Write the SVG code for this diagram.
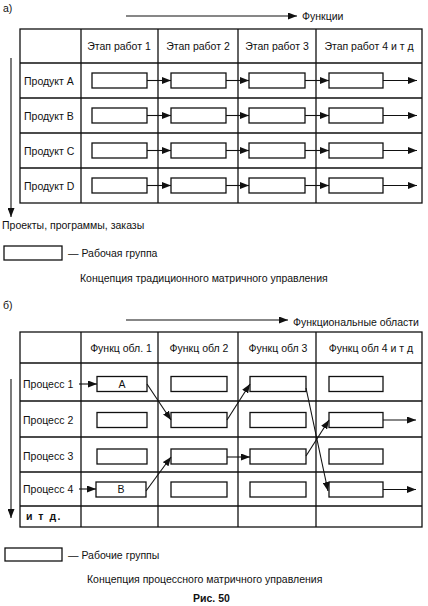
<svg xmlns="http://www.w3.org/2000/svg" width="428" height="606" viewBox="0 0 428 606">
<defs>
<marker id="ah" markerUnits="userSpaceOnUse" markerWidth="9" markerHeight="7" refX="9" refY="3.5" orient="auto">
<path d="M0,0 L9,3.5 L0,7 z" fill="#111"/>
</marker>
<style>
.t{font-family:"Liberation Sans",Arial,sans-serif;font-size:10.5px;fill:#111}
.m{text-anchor:middle}
.g{stroke:#111;stroke-width:1.3;fill:none}
.b{fill:#fff;stroke:#111;stroke-width:1.3}
.c{stroke:#111;stroke-width:1.1;fill:none;marker-end:url(#ah)}
</style>
</defs>
<rect width="428" height="606" fill="#fff"/>

<!-- Part a -->
<g id="part-a-labels">
<text class="t" x="3" y="12" font-size="11">а)</text>
<text class="t" x="302" y="20" font-size="11.5">Функции</text>
<text class="t" x="2" y="229" font-size="11.5">Проекты, программы, заказы</text>
<text class="t" x="80" y="282" font-size="10.9">Концепция традиционного матричного управления</text>
</g>
<g id="table-a">
<rect class="g" x="20" y="29" width="402" height="174"/>
<path class="g" d="M20,63H422M20,98H422M20,133H422M20,168H422M81,29V203M158,29V203M238,29V203M316,29V203"/>
<text class="t m" x="119" y="50">Этап работ 1</text>
<text class="t m" x="198" y="50">Этап работ 2</text>
<text class="t m" x="277" y="50">Этап работ 3</text>
<text class="t m" x="369" y="50">Этап работ 4 и т д</text>
<text class="t" x="24" y="84.5">Продукт А</text>
<text class="t" x="24" y="119.5">Продукт В</text>
<text class="t" x="24" y="154.5">Продукт С</text>
<text class="t" x="24" y="189.5">Продукт D</text>
</g>
<g id="nodes-a">
<g id="a-A1"><rect class="b" x="92" y="73" width="55" height="15"/></g>
<g id="a-A2"><rect class="b" x="171" y="73" width="55" height="15"/></g>
<g id="a-A3"><rect class="b" x="249" y="73" width="56" height="15"/></g>
<g id="a-A4"><rect class="b" x="329" y="73" width="54" height="15"/></g>
<g id="a-B1"><rect class="b" x="92" y="108" width="55" height="15"/></g>
<g id="a-B2"><rect class="b" x="171" y="108" width="55" height="15"/></g>
<g id="a-B3"><rect class="b" x="249" y="108" width="56" height="15"/></g>
<g id="a-B4"><rect class="b" x="329" y="108" width="54" height="15"/></g>
<g id="a-C1"><rect class="b" x="92" y="143" width="55" height="15"/></g>
<g id="a-C2"><rect class="b" x="171" y="143" width="55" height="15"/></g>
<g id="a-C3"><rect class="b" x="249" y="143" width="56" height="15"/></g>
<g id="a-C4"><rect class="b" x="329" y="143" width="54" height="15"/></g>
<g id="a-D1"><rect class="b" x="92" y="178" width="55" height="15"/></g>
<g id="a-D2"><rect class="b" x="171" y="178" width="55" height="15"/></g>
<g id="a-D3"><rect class="b" x="249" y="178" width="56" height="15"/></g>
<g id="a-D4"><rect class="b" x="329" y="178" width="54" height="15"/></g>
<g id="a-legend"><rect class="b" x="4" y="246" width="58" height="14"/><text class="t" x="68" y="257">— Рабочая группа</text></g>
</g>
<g id="connectors-a">
<path class="c" d="M126,16H297"/>
<path class="c" d="M11,58V217"/>
<path class="c" d="M147,80.5H171"/><path class="c" d="M226,80.5H249"/><path class="c" d="M305,80.5H329"/><path class="c" d="M383,80.5H417"/>
<path class="c" d="M147,115.5H171"/><path class="c" d="M226,115.5H249"/><path class="c" d="M305,115.5H329"/><path class="c" d="M383,115.5H417"/>
<path class="c" d="M147,150.5H171"/><path class="c" d="M226,150.5H249"/><path class="c" d="M305,150.5H329"/><path class="c" d="M383,150.5H417"/>
<path class="c" d="M147,185.5H171"/><path class="c" d="M226,185.5H249"/><path class="c" d="M305,185.5H329"/><path class="c" d="M383,185.5H417"/>
</g>

<!-- Part b -->
<g id="part-b-labels">
<text class="t" x="3" y="309" font-size="11">б)</text>
<text class="t" x="293" y="326" font-size="11.5">Функциональные области</text>
<text class="t" x="87" y="583" font-size="11.3">Концепция процессного матричного управления</text>
<text class="t" x="193" y="602" font-size="12.5" font-weight="bold">Рис. 50</text>
</g>
<g id="table-b">
<rect class="g" x="20" y="332" width="402" height="195"/>
<path class="g" d="M20,363H422M20,401H422M20,437H422M20,472H422M20,506H422M81,332V527M158,332V527M238,332V527M316,332V527"/>
<text class="t m" x="121" y="352">Функц обл. 1</text>
<text class="t m" x="199" y="352">Функц обл 2</text>
<text class="t m" x="278" y="352">Функц обл 3</text>
<text class="t m" x="371" y="352">Функц обл 4 и т д</text>
<text class="t" x="23" y="388">Процесс 1</text>
<text class="t" x="23" y="423.5">Процесс 2</text>
<text class="t" x="23" y="460">Процесс 3</text>
<text class="t" x="23" y="493">Процесс 4</text>
<text class="t" x="26" y="520" font-size="9" font-weight="bold" letter-spacing="1.5">и т д.</text>
</g>
<g id="nodes-b">
<g id="b-1-1"><rect class="b" x="97" y="376.5" width="50" height="15"/><text class="t m" x="122" y="388" font-size="9.5">А</text></g>
<g id="b-1-2"><rect class="b" x="171" y="376.5" width="56" height="15"/></g>
<g id="b-1-3"><rect class="b" x="250" y="376.5" width="56" height="15"/></g>
<g id="b-1-4"><rect class="b" x="329" y="376.5" width="54" height="15"/></g>
<g id="b-2-1"><rect class="b" x="97" y="412.5" width="50" height="15"/></g>
<g id="b-2-2"><rect class="b" x="171" y="412.5" width="56" height="15"/></g>
<g id="b-2-3"><rect class="b" x="250" y="412.5" width="56" height="15"/></g>
<g id="b-2-4"><rect class="b" x="329" y="412.5" width="54" height="15"/></g>
<g id="b-3-1"><rect class="b" x="97" y="449" width="50" height="15"/></g>
<g id="b-3-2"><rect class="b" x="171" y="449" width="56" height="15"/></g>
<g id="b-3-3"><rect class="b" x="250" y="449" width="56" height="15"/></g>
<g id="b-3-4"><rect class="b" x="329" y="449" width="54" height="15"/></g>
<g id="b-4-1"><rect class="b" x="96" y="482" width="50" height="15"/><text class="t m" x="121" y="493" font-size="9.5">В</text></g>
<g id="b-4-2"><rect class="b" x="171" y="482" width="56" height="15"/></g>
<g id="b-4-3"><rect class="b" x="250" y="482" width="56" height="15"/></g>
<g id="b-4-4"><rect class="b" x="329" y="482" width="54" height="15"/></g>
<g id="b-legend"><rect class="b" x="5" y="548" width="57" height="13"/><text class="t" x="68" y="559">— Рабочие группы</text></g>
</g>
<g id="connectors-b">
<path class="c" d="M126,320H288"/>
<path class="c" d="M11,379V518"/>
<path class="c" d="M79,384H97"/>
<path class="c" d="M79,489H96"/>
<path class="c" d="M147,384L171,420"/>
<path class="c" d="M227,420L250,384"/>
<path class="c" d="M306,388L328,491"/>
<path class="c" d="M306,456L329,420"/>
<path class="c" d="M227,457H250"/>
<path class="c" d="M146,491L171,457"/>
<path class="c" d="M383,420H416"/>
<path class="c" d="M383,489.5H416"/>
</g>
</svg>
